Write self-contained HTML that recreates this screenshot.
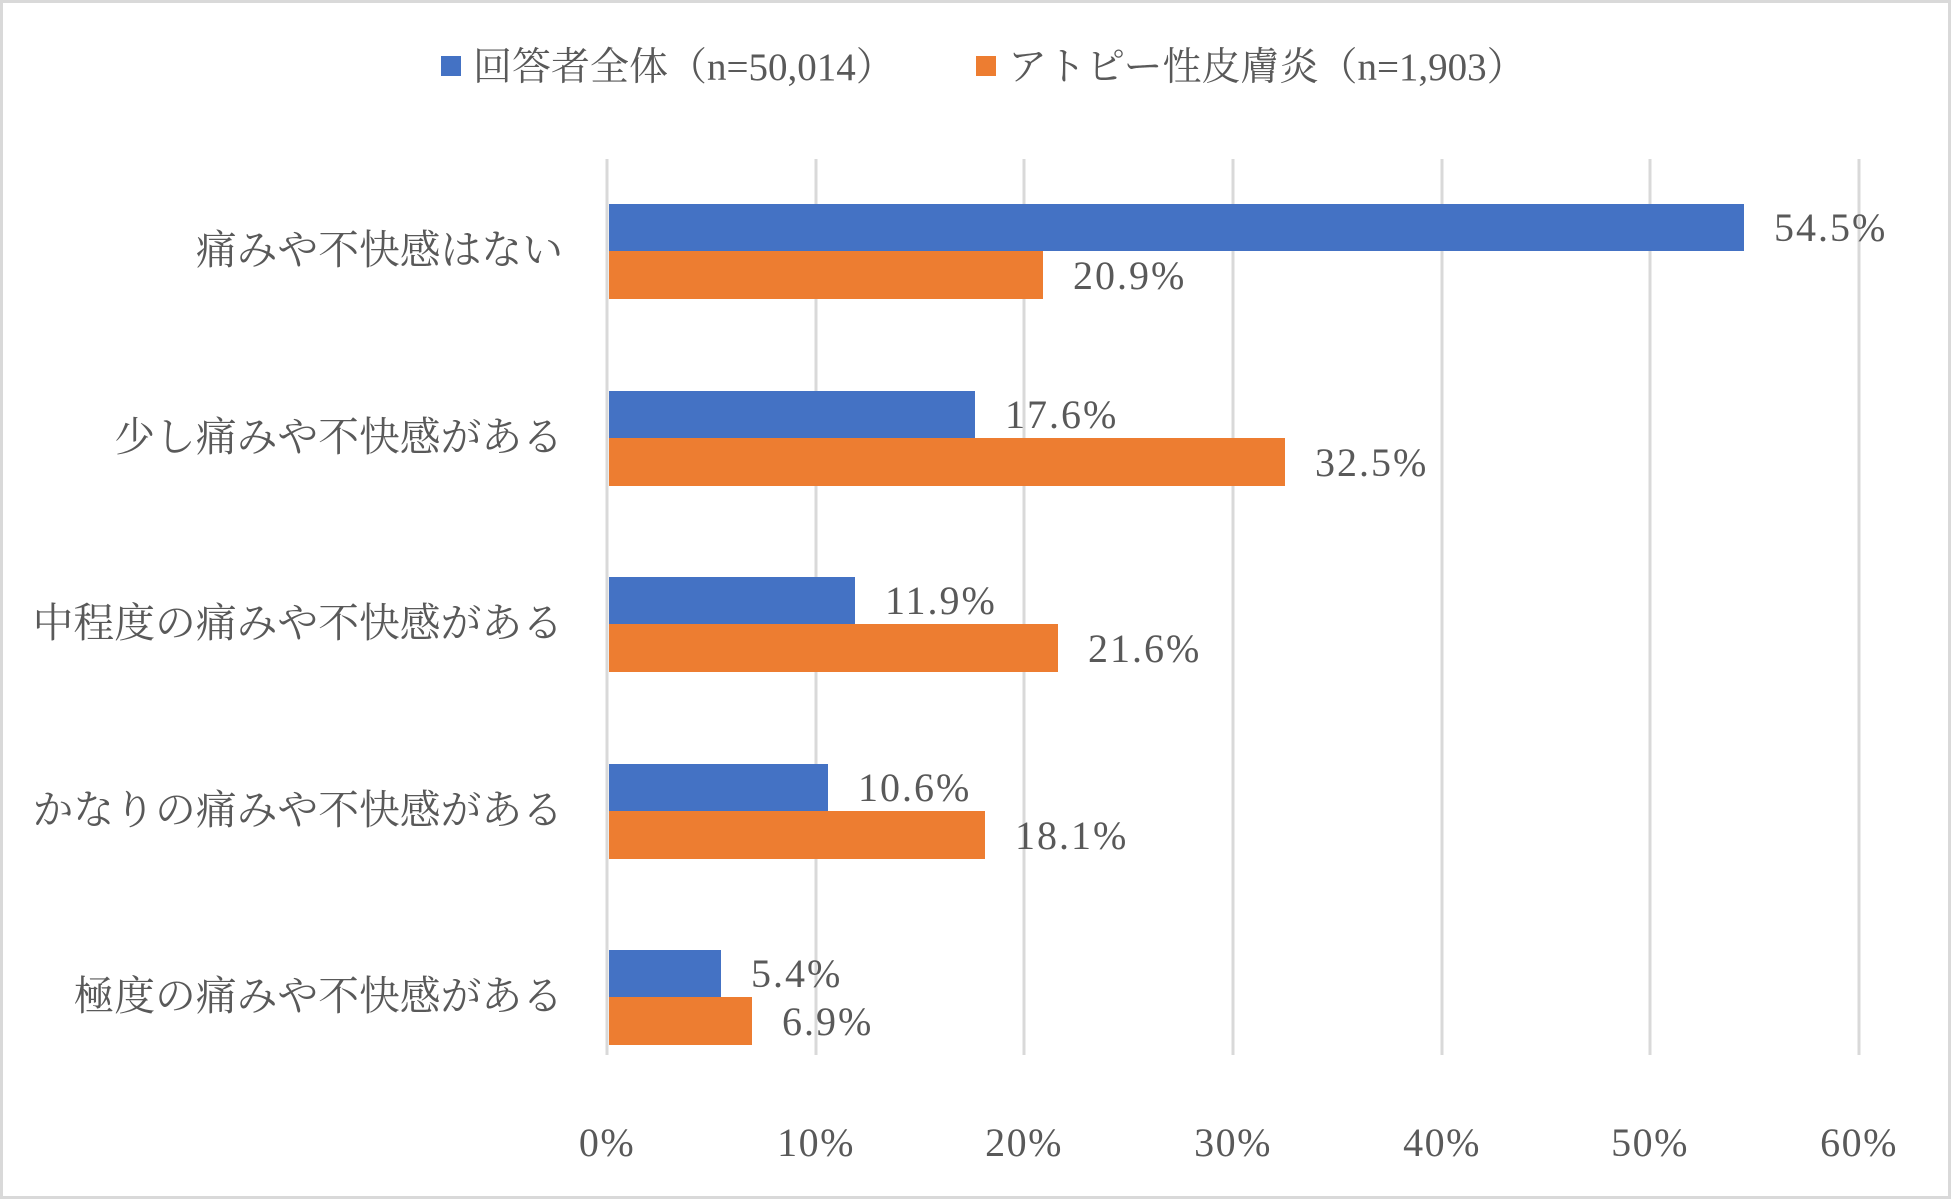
<!DOCTYPE html>
<html><head><meta charset="utf-8"><style>
html,body{margin:0;padding:0;background:#fff;}
svg{display:block;}
text{font-family:"Liberation Serif","Noto Serif CJK SC",serif;fill:#595959;}
</style></head><body>
<svg width="1951" height="1199" viewBox="0 0 1951 1199" xmlns="http://www.w3.org/2000/svg">
<rect x="1.5" y="1.5" width="1948" height="1196" fill="#fff" stroke="#d9d9d9" stroke-width="3"/>
<!-- legend -->
<rect x="441" y="56" width="20" height="20" fill="#4472c4"/>
<text x="473" y="80" font-size="39">回答者全体（n=50,014）</text>
<rect x="976" y="56" width="20" height="20" fill="#ed7d31"/>
<text x="1008" y="80" font-size="39">アトピー性皮膚炎（n=1,903）</text>
<!-- grid -->
<g stroke="#d9d9d9" stroke-width="3">
<line x1="607" y1="159" x2="607" y2="1055"/>
<line x1="816" y1="159" x2="816" y2="1055"/>
<line x1="1024" y1="159" x2="1024" y2="1055"/>
<line x1="1233" y1="159" x2="1233" y2="1055"/>
<line x1="1442" y1="159" x2="1442" y2="1055"/>
<line x1="1650" y1="159" x2="1650" y2="1055"/>
<line x1="1859" y1="159" x2="1859" y2="1055"/>
</g>
<g font-size="40" letter-spacing="1.5" text-anchor="middle">
<text x="607" y="1156">0%</text><text x="816" y="1156">10%</text><text x="1024" y="1156">20%</text>
<text x="1233" y="1156">30%</text><text x="1442" y="1156">40%</text><text x="1650" y="1156">50%</text><text x="1859" y="1156">60%</text>
</g>
<!-- bars -->
<g>
<rect x="609" y="204" width="1135" height="47" fill="#4472c4"/>
<rect x="609" y="251" width="434" height="48" fill="#ed7d31"/>
<rect x="609" y="391" width="366" height="47" fill="#4472c4"/>
<rect x="609" y="438" width="676" height="48" fill="#ed7d31"/>
<rect x="609" y="577" width="246" height="47" fill="#4472c4"/>
<rect x="609" y="624" width="449" height="48" fill="#ed7d31"/>
<rect x="609" y="764" width="219" height="47" fill="#4472c4"/>
<rect x="609" y="811" width="376" height="48" fill="#ed7d31"/>
<rect x="609" y="950" width="112" height="47" fill="#4472c4"/>
<rect x="609" y="997" width="143" height="48" fill="#ed7d31"/>
</g>
<g font-size="40" letter-spacing="2">
<text x="1774" y="241">54.5%</text><text x="1073" y="289">20.9%</text>
<text x="1005" y="428">17.6%</text><text x="1315" y="476">32.5%</text>
<text x="885" y="614">11.9%</text><text x="1088" y="662">21.6%</text>
<text x="858" y="801">10.6%</text><text x="1015" y="849">18.1%</text>
<text x="751" y="987">5.4%</text><text x="782" y="1035">6.9%</text>
</g>
<g font-size="40.8" text-anchor="end">
<text x="563" y="264">痛みや不快感はない</text>
<text x="563" y="451">少し痛みや不快感がある</text>
<text x="563" y="637">中程度の痛みや不快感がある</text>
<text x="563" y="824">かなりの痛みや不快感がある</text>
<text x="563" y="1010">極度の痛みや不快感がある</text>
</g>
</svg>
</body></html>
